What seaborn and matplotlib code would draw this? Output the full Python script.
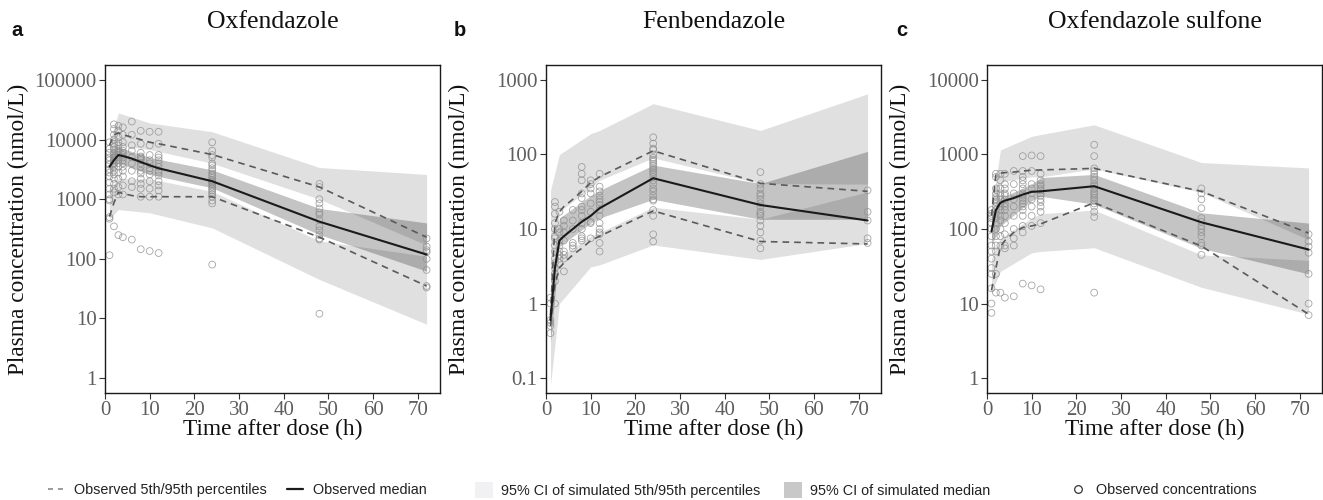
import numpy as np
import pandas as pd
import matplotlib
matplotlib.use("Agg")
import matplotlib.pyplot as plt
from matplotlib.lines import Line2D
from matplotlib.patches import Patch
import seaborn as sns

# ---- data ----
titles = ["Oxfendazole", "Fenbendazole", "Oxfendazole sulfone"]
letters = ["a", "b", "c"]

# observed summary lines (bins)
obs_t = [1, 2, 3, 4, 6, 8, 10, 12, 24, 48, 72]
oxf_med = [3500, 4500, 5500, 5300, 4800, 4200, 3700, 3300, 2000, 420, 118]
oxf_p95 = [8000, 12000, 13000, 12000, 11000, 10000, 9000, 8500, 5600, 1600, 230]
oxf_p5 = [510, 870, 1300, 1250, 1150, 1100, 1100, 1100, 1100, 230, 35]
fbz_med = [0.6, 3, 7, 8, 10, 12.5, 15, 19, 48, 21, 13]
fbz_p95 = [0.7, 12, 17, 20, 25, 32, 42, 50, 112, 41, 32]
fbz_p5 = [0.5, 1.8, 3, 3.5, 4.5, 5.5, 7, 8, 17.5, 6.8, 6.3]
oxs_med = [93, 180, 225, 240, 260, 290, 315, 320, 375, 123, 53]
oxs_p95 = [150, 540, 560, 570, 580, 600, 615, 620, 650, 320, 88]
oxs_p5 = [15, 30, 58, 70, 90, 105, 110, 117, 225, 59, 7.2]

# simulated 95% CI bands
oxf_sim_t = [1, 3, 10, 24, 48, 72]
oxf_p95_hi = [8900, 28000, 19000, 13500, 3400, 2600]
oxf_p95_lo = [3000, 8000, 6800, 4000, 1000, 170]
oxf_mci_hi = [5500, 7500, 5000, 3100, 700, 400]
oxf_mci_lo = [2500, 4000, 2600, 1550, 255, 62]
oxf_p5_hi = [1500, 2200, 2200, 1350, 200, 110]
oxf_p5_lo = [460, 670, 590, 330, 45, 8]

fbz_sim_t = [1, 3, 10, 12, 24, 48, 72]
fbz_p95_hi = [33, 100, 190, 210, 480, 210, 650]
fbz_p95_lo = [1.0, 17, 36, 45, 90, 40.7, 40]
fbz_mci_hi = [1.5, 14, 28, 33, 72, 40.7, 110]
fbz_mci_lo = [0.3, 5.8, 12, 14, 25, 13.5, 13.5]
fbz_p5_hi = [1.0, 4.2, 8, 9, 19.6, 13.5, 31.5]
fbz_p5_lo = [0.08, 1.0, 3.1, 3.3, 6.1, 3.9, 6.4]

oxs_sim_t = [1, 3, 10, 12, 24, 48, 72]
oxs_p95_hi = [180, 1150, 1750, 1850, 2500, 780, 660]
oxs_p95_lo = [90, 430, 500, 500, 640, 310, 72]
oxs_mci_hi = [150, 260, 400, 490, 540, 165, 120]
oxs_mci_lo = [60, 110, 240, 275, 215, 55, 25]
oxs_p5_hi = [40, 75, 140, 160, 180, 45, 38]
oxs_p5_lo = [14, 27, 48, 50, 56, 16.5, 7.2]

# observed concentrations, by sampling time
oxf_pts = {
    1: [9000, 7000, 6000, 5000, 4500, 3800, 3200, 2800, 2400, 1900, 1500, 1200, 1000, 950, 500, 470, 115],
    2: [18000, 15000, 12000, 10000, 8500, 7500, 6800, 6000, 5500, 5000, 4500, 4000, 3500, 3000, 2600, 2200, 1800, 1500, 1300, 350],
    3: [17000, 14000, 11000, 9000, 8000, 7000, 6500, 6000, 5500, 5000, 4500, 4000, 3500, 2800, 2200, 1600, 1200, 250],
    4: [16000, 12000, 9000, 7500, 6500, 6000, 5500, 5000, 4500, 4000, 3500, 3000, 2400, 1700, 1200, 230],
    6: [20000, 12000, 8000, 6500, 5000, 4000, 3000, 2000, 1600, 210],
    8: [14000, 8500, 6000, 5200, 5000, 4800, 4500, 4000, 3500, 3000, 2700, 2200, 1800, 1500, 1100, 145],
    10: [13500, 8000, 5500, 4500, 4000, 3300, 3000, 2600, 2000, 1500, 1100, 135],
    12: [13500, 8500, 5500, 5000, 4500, 4000, 3500, 3000, 2800, 2500, 2000, 1700, 1400, 1100, 125],
    24: [9000, 6500, 5500, 5000, 4000, 3700, 3300, 3000, 2700, 2500, 2300, 2100, 2000, 1900, 1800,
         1700, 1600, 1500, 1400, 1300, 1200, 1100, 950, 850, 80],
    48: [1800, 1600, 1000, 850, 700, 600, 550, 450, 350, 300, 250, 220, 210, 12],
    72: [220, 160, 140, 130, 100, 65, 35, 33],
}
fbz_pts = {
    1: [1.2, 1.0, 0.6, 0.55, 0.5, 0.4],
    2: [23, 20, 16, 12, 10, 8, 7.5, 6, 5, 4, 3.5, 3, 2.5, 2, 1.0],
    3: [17, 10, 9, 7, 6, 5, 4.5, 4, 3.5],
    4: [13, 11, 9, 7, 5, 4.5, 4, 2.7],
    6: [18, 13, 10, 6.5, 6, 5.5],
    8: [68, 55, 45, 30, 26, 20, 18, 15, 12, 10, 8, 7.5, 7],
    10: [45, 40, 35, 30, 22, 17, 12.5, 12, 7.5],
    12: [55, 37, 32, 28, 25, 23, 21, 18, 15, 12, 10, 9, 8.5, 6.5, 5],
    24: [170, 140, 120, 115, 100, 90, 85, 80, 75, 70, 65, 62, 58, 55, 50, 45, 40, 35, 32,
         28, 25, 24, 18, 15, 8.5, 6.8],
    48: [58, 40, 35, 30, 28, 25, 22, 20, 17, 16, 15, 13, 11, 9, 7, 5.5],
    72: [33, 17, 13, 7.5, 6.5],
}
oxs_pts = {
    1: [180, 160, 150, 140, 120, 100, 80, 60, 50, 40, 30, 25, 16, 10, 7.5],
    2: [550, 500, 350, 300, 270, 250, 230, 200, 180, 160, 140, 120, 100, 80, 60, 50, 25, 14],
    3: [550, 450, 350, 300, 280, 250, 220, 200, 180, 150, 130, 100, 80, 60, 14],
    4: [550, 400, 350, 300, 280, 250, 220, 200, 180, 150, 120, 85, 60, 55, 12],
    6: [600, 400, 300, 250, 200, 150, 100, 75, 60, 12.5],
    8: [950, 600, 500, 450, 400, 350, 300, 280, 260, 240, 220, 200, 180, 150, 110, 90, 18.5],
    10: [970, 600, 400, 350, 300, 250, 200, 150, 110, 17.5],
    12: [950, 550, 450, 400, 380, 350, 330, 300, 280, 250, 230, 200, 170, 120, 15.5],
    24: [1350, 950, 650, 600, 550, 500, 450, 400, 380, 350, 320, 300, 280, 260, 240, 220,
         200, 170, 145, 14],
    48: [350, 300, 250, 190, 140, 125, 110, 100, 90, 80, 65, 60, 45],
    72: [85, 68, 58, 48, 25, 10, 7],
}

yticks = [[1, 10, 100, 1000, 10000, 100000],
          [0.1, 1, 10, 100, 1000],
          [1, 10, 100, 1000, 10000]]
ytick_labels = [["1", "10", "100", "1000", "10000", "100000"],
                ["0.1", "1", "10", "100", "1000"],
                ["1", "10", "100", "1000", "10000"]]
xticks = [0, 10, 20, 30, 40, 50, 60, 70]

panels = [
    (oxf_med, oxf_p95, oxf_p5, oxf_sim_t, oxf_p95_hi, oxf_p95_lo, oxf_mci_hi, oxf_mci_lo, oxf_p5_hi, oxf_p5_lo, oxf_pts),
    (fbz_med, fbz_p95, fbz_p5, fbz_sim_t, fbz_p95_hi, fbz_p95_lo, fbz_mci_hi, fbz_mci_lo, fbz_p5_hi, fbz_p5_lo, fbz_pts),
    (oxs_med, oxs_p95, oxs_p5, oxs_sim_t, oxs_p95_hi, oxs_p95_lo, oxs_mci_hi, oxs_mci_lo, oxs_p5_hi, oxs_p5_lo, oxs_pts),
]

# ---- style ----
sns.set_theme(style="white")
plt.rcParams["font.family"] = ["Liberation Serif", "DejaVu Serif"]

W, H = 1323, 500
fig = plt.figure(figsize=(W / 100, H / 100), dpi=100)

ax_left_px = [105, 546, 987]
ax_w_px, ax_top_px, ax_bot_px = 335, 65, 393
letter_px = [11, 454, 896]

for i, (med, p95, p5, st, p95h, p95l, mh, ml, p5h, p5l, pts) in enumerate(panels):
    ax = fig.add_axes([ax_left_px[i] / W, 1 - ax_bot_px / H, ax_w_px / W, (ax_bot_px - ax_top_px) / H])
    ax.set_yscale("log")

    # simulated CIs
    ax.fill_between(st, p95l, p95h, color="black", alpha=0.12, lw=0)
    ax.fill_between(st, p5l, p5h, color="black", alpha=0.12, lw=0)
    ax.fill_between(st, ml, mh, color="black", alpha=0.23, lw=0)

    # observed concentrations
    pdf = pd.DataFrame([(t, v) for t, vals in pts.items() for v in vals], columns=["time", "conc"])
    sns.scatterplot(data=pdf, x="time", y="conc", ax=ax, marker="o", s=24,
                    facecolors="none", edgecolor="#8f8f8f", linewidth=0.6, alpha=0.8, legend=False)

    # observed percentiles and median
    ldf = pd.DataFrame({"time": obs_t, "med": med, "p95": p95, "p5": p5})
    for col in ["p95", "p5"]:
        sns.lineplot(data=ldf, x="time", y=col, ax=ax, color="#5a5a5a", lw=1.2,
                     linestyle=(0, (4, 3)), estimator=None, sort=False)
    sns.lineplot(data=ldf, x="time", y="med", ax=ax, color="#1a1a1a", lw=1.5,
                 estimator=None, sort=False)

    lo, hi = np.log10(yticks[i][0]), np.log10(yticks[i][-1])
    pad = (hi - lo) * 0.05
    ax.set_ylim(10 ** (lo - pad), 10 ** (hi + pad))
    ax.set_xlim(0, 75)
    ax.set_yticks(yticks[i])
    ax.set_yticklabels(ytick_labels[i])
    ax.yaxis.set_minor_locator(matplotlib.ticker.NullLocator())
    ax.set_xticks(xticks)
    ax.tick_params(axis="both", which="major", direction="out", length=4, width=0.8,
                   color="#333333", labelsize=15, labelcolor="#5e5e5e", pad=2,
                   left=True, bottom=True)
    for sp in ax.spines.values():
        sp.set_color("#1a1a1a")
        sp.set_linewidth(1.0)

    ax.set_xlabel("Time after dose (h)", fontsize=16.8, color="#111111")
    ax.set_ylabel("Plasma concentration (nmol/L)", fontsize=16.8, color="#111111")
    ax.xaxis.set_label_coords(0.5, -0.078)
    ax.yaxis.set_label_coords(-0.228, 0.5)

    cx = (ax_left_px[i] + ax_w_px / 2) / W
    fig.text(cx, 1 - 22 / H, titles[i], ha="center", va="center", fontsize=18.5, color="#111111")
    fig.text(letter_px[i] / W, 1 - 30 / H, letters[i], ha="left", va="center", fontsize=14.5,
             fontweight="bold", family=["Liberation Sans", "DejaVu Sans"], color="#111111")

# ---- legends ----
lprops = dict(family=["Liberation Sans", "DejaVu Sans"], size=10.4)
common = dict(frameon=False, loc="center left", borderpad=0, borderaxespad=0, prop=lprops,
              labelcolor="#222222")
h1 = [Line2D([], [], color="#8a8a8a", lw=1.2, linestyle=(0, (3, 3))),
      Line2D([], [], color="#1a1a1a", lw=1.6)]
fig.legend(h1, ["Observed 5th/95th percentiles", "Observed median"], ncol=2,
           bbox_to_anchor=(48 / W, 10 / H), handlelength=1.1, handletextpad=0.7,
           columnspacing=1.38, **common)
h2 = [Patch(facecolor="#f1f1f3", edgecolor="none"), Patch(facecolor="#c8c8c8", edgecolor="none")]
fig.legend(h2, ["95% CI of simulated 5th/95th percentiles", "95% CI of simulated median"], ncol=2,
           bbox_to_anchor=(475 / W, 10 / H), handlelength=1.25, handleheight=1.4,
           handletextpad=0.55, columnspacing=1.65, **common)
h3 = [Line2D([], [], color="none", marker="o", markerfacecolor="none",
             markeredgecolor="#333333", markersize=5.5, markeredgewidth=0.9)]
fig.legend(h3, ["Observed concentrations"], bbox_to_anchor=(1071 / W, 10 / H),
           handlelength=1.0, handletextpad=0.7, **common)

fig.savefig("out.png", dpi=100)
